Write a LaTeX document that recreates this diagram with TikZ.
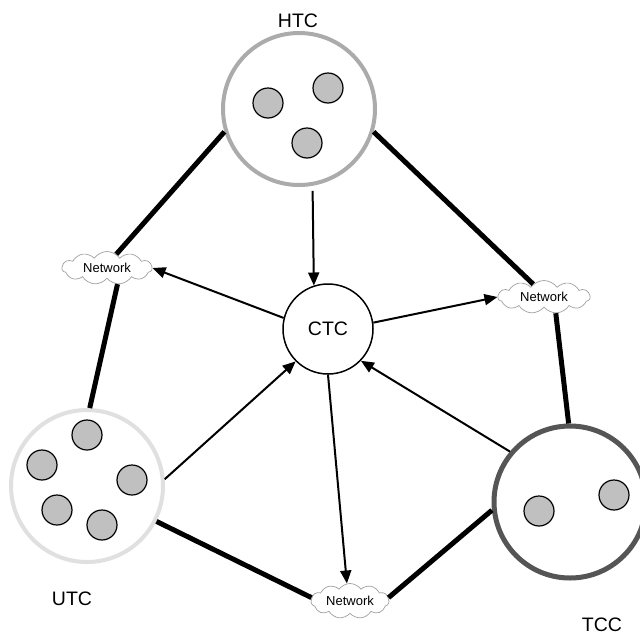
\documentclass[tikz,border=0pt]{standalone}
\usepackage{fontspec}
\setmainfont{Liberation Sans}
\usetikzlibrary{shapes.symbols,arrows.meta}
\definecolor{htcgray}{HTML}{ABABAB}
\definecolor{utcgray}{HTML}{E0E0E0}
\definecolor{tccgray}{HTML}{555555}
\definecolor{dotgray}{HTML}{C0C0C0}
\definecolor{netgray}{HTML}{A0A0A0}
\begin{document}
\begin{tikzpicture}[x=1pt,y=-1pt,
  big/.style={circle,minimum size=152pt,inner sep=0pt,line width=4pt,fill=white},
  dot/.style={circle,draw=black,fill=dotgray,line width=1.2pt,minimum size=30pt,inner sep=0pt},
  net/.style={cloud,cloud puffs=11,cloud puff arc=110,cloud ignores aspect,draw=netgray,line width=0.7pt,fill=white,minimum width=90pt,minimum height=33pt,inner sep=0pt,font=\fontsize{13}{15}\selectfont},
  lbl/.style={font=\fontsize{19.5}{23}\selectfont,inner sep=0pt},
  link/.style={line width=5pt},
  arr/.style={line width=2pt,-{Triangle[length=13pt,width=11pt]}}
]
\clip (0,0) rectangle (640,635);
\fill[white] (0,0) rectangle (640,635);
% big circles
\node[big,draw=htcgray] (htc) at (299,109) {};
\node[big,draw=utcgray] (utc) at (87,486) {};
\node[big,draw=tccgray,line width=5pt] (tcc) at (570,502) {};
\node[circle,draw=black,line width=1.5pt,minimum size=90pt,inner sep=0pt,fill=white,font=\fontsize{19.5}{23}\selectfont] (ctc) at (328,329) {CTC};
% dots
\node[dot] (h1) at (268,103) {};
\node[dot] (h2) at (328,88) {};
\node[dot] (h3) at (307,143) {};
\node[dot] (u1) at (87,435) {};
\node[dot] (u2) at (42,465) {};
\node[dot] (u3) at (132,480) {};
\node[dot] (u4) at (57,510) {};
\node[dot] (u5) at (102,525) {};
\node[dot] (t1) at (539,511) {};
\node[dot] (t2) at (614,495) {};
% labels
\node[lbl] (lh) at (298,21) {HTC};
\node[lbl] (lu) at (72,599) {UTC};
\node[lbl] (lt) at (602,625) {TCC};
% networks
\node[net] (netL) at (107,268) {Network};
\node[net,minimum width=92pt] (netR) at (544,297) {Network};
\node[net,minimum width=78pt,minimum height=35pt] (netB) at (350,601) {Network};
% thick links
\draw[link] (htc.197) -- (netL.56);
\draw[link] (netL.-57) -- (utc.88);
\draw[link] (htc.-17) -- (netR.130);
\draw[link] (netR.-54) -- (tcc.91);
\draw[link] (utc.-27) -- (netB.175);
\draw[link] (netB.5) -- (tcc.186);
% arrows
\draw[arr,shorten <=5pt] (htc.-80) -- (ctc.108);
\draw[arr] (ctc.166) -- (netL.east);
\draw[arr] (ctc.8) -- (netR.west);
\draw[arr] (utc.5) -- (ctc.225);
\draw[arr] (tcc.140) -- (ctc.-44);
\draw[arr] (ctc.-90) -- (netB.100);
\end{tikzpicture}
\end{document}
